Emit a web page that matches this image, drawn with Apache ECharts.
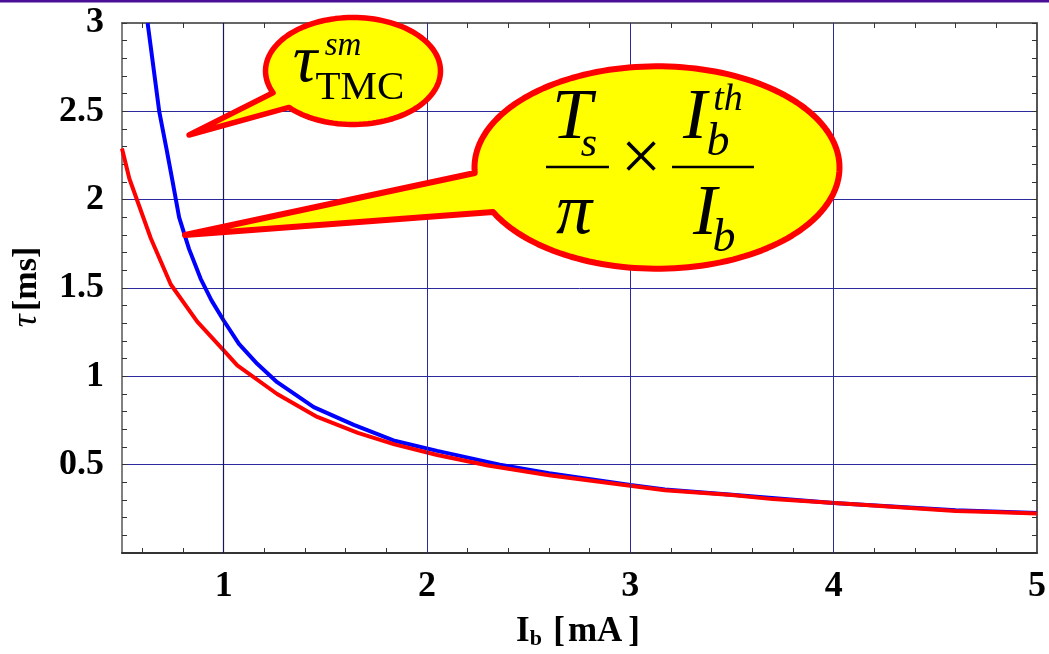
<!DOCTYPE html>
<html><head><meta charset="utf-8">
<script src="https://cdn.jsdelivr.net/npm/echarts@6/dist/echarts.min.js"></script>
<style>html,body{margin:0;padding:0;background:#fff}#c{width:1049px;height:654px}</style>
</head><body><div id="c"></div>
<script>
// ---- data ----
const xLabelValues = [1, 2, 3, 4, 5];
const xGridValues = [1, 2, 3, 4];
const xTickValues = [0.6, 0.8, 1, 1.2, 1.4, 1.6, 1.8, 2, 2.2, 2.4, 2.6, 2.8, 3, 3.2, 3.4, 3.6, 3.8, 4, 4.2, 4.4, 4.6, 4.8];

// tau_TMC^sm (blue)
const blueX = [0.626, 0.683, 0.72, 0.748, 0.781, 0.83, 0.887, 0.94, 1.0, 1.075, 1.165, 1.263, 1.443, 1.64, 1.835, 2.05, 2.358, 2.6, 3.0, 3.17, 3.5, 4.0, 4.6, 4.78, 5.0];
const blueY = [3.0, 2.5, 2.28, 2.108, 1.90, 1.72, 1.552, 1.43, 1.316, 1.184, 1.071, 0.967, 0.826, 0.725, 0.637, 0.578, 0.50, 0.452, 0.385, 0.36, 0.33, 0.283, 0.242, 0.235, 0.226];

// Ts/pi * Ib_th/Ib (red)
const redX = [0.5, 0.536, 0.642, 0.74, 0.87, 1.0, 1.067, 1.263, 1.46, 1.66, 1.84, 2.05, 2.3, 2.6, 3.17, 3.5, 3.7, 4.1, 4.6, 4.78, 5.0];
const redY = [2.29, 2.12, 1.78, 1.52, 1.31, 1.147, 1.062, 0.90, 0.77, 0.68, 0.615, 0.555, 0.495, 0.44, 0.355, 0.328, 0.305, 0.276, 0.238, 0.232, 0.224];

const serif = '"Liberation Serif", "Times New Roman", serif';
const gridColor = '#2a2a9c';

function pairs(xs, ys) { return xs.map((x, i) => [x, ys[i]]); }

// speech-bubble outline: ellipse arc from tail base a to tail base b, then tip
function bubblePoints(cx, cy, rx, ry, a, b, tip, n) {
  const ta = Math.atan2((a[1] - cy) / ry, (a[0] - cx) / rx);
  let tb = Math.atan2((b[1] - cy) / ry, (b[0] - cx) / rx);
  if (tb <= ta) tb += Math.PI * 2;
  const pts = [tip];
  for (let i = 0; i <= n; i++) {
    const t = ta + (tb - ta) * i / n;
    pts.push([cx + rx * Math.cos(t), cy + ry * Math.sin(t)]);
  }
  return pts;
}

function txt(text, x, y, size, style, weight) {
  return {
    type: 'text', x: x, y: y, z: 102, silent: true,
    style: { text: text, fill: '#000', align: 'center', verticalAlign: 'middle',
      font: (style || 'italic') + ' ' + (weight || 'normal') + ' ' + size + 'px ' + serif }
  };
}

const chart = echarts.init(document.getElementById('c'), null, { renderer: 'canvas' });

const tickStyle = { show: true, inside: true, length: 5, lineStyle: { color: '#333', width: 1 } };

const option = {
  animation: false,
  backgroundColor: '#fff',
  grid: { left: 122, right: 8, top: 23, bottom: 101, containLabel: false },
  xAxis: [{
    type: 'value', min: 0.5, max: 5, position: 'bottom',
    axisLine: { show: true, onZero: false, lineStyle: { color: '#333', width: 2 } },
    axisTick: Object.assign({ customValues: xTickValues }, tickStyle),
    axisLabel: { customValues: xLabelValues, margin: 16, color: '#000', fontFamily: serif, fontWeight: 'bold', fontSize: 36 },
    splitLine: { show: false }
  }, {
    type: 'value', min: 0.5, max: 5, position: 'top',
    axisLine: { show: true, onZero: false, lineStyle: { color: '#666', width: 2 } },
    axisTick: Object.assign({ customValues: xTickValues }, tickStyle),
    axisLabel: { show: false },
    splitLine: { show: false }
  }],
  yAxis: [{
    type: 'value', min: 0, max: 3, interval: 0.5, position: 'left',
    axisLine: { show: true, onZero: false, lineStyle: { color: '#808080', width: 2 } },
    axisTick: tickStyle,
    minorTick: { show: true, splitNumber: 5, length: 5, lineStyle: { color: '#333', width: 1 } },
    axisLabel: { margin: 18, color: '#000', fontFamily: serif, fontWeight: 'bold', fontSize: 36,
      formatter: v => (v === 0 ? '' : String(v)) },
    splitLine: { show: true, lineStyle: { color: gridColor, width: 1 } }
  }, {
    type: 'value', min: 0, max: 3, interval: 0.5, position: 'right',
    axisLine: { show: true, onZero: false, lineStyle: { color: '#555', width: 2 } },
    axisTick: tickStyle,
    minorTick: { show: true, splitNumber: 5, length: 5, lineStyle: { color: '#333', width: 1 } },
    axisLabel: { show: false },
    splitLine: { show: false }
  }],
  series: [{
    type: 'line', data: [], z: 1, silent: true,
    markLine: {
      silent: true, symbol: ['none', 'none'], label: { show: false }, animation: false,
      lineStyle: { color: gridColor, width: 1, type: 'solid' },
      emphasis: { disabled: true },
      data: xGridValues.map(v => v === 1
        ? { xAxis: v, lineStyle: { color: '#16165a', width: 1.2, type: 'solid' } }
        : { xAxis: v })
    }
  }, {
    name: 'tau_TMC_sm', type: 'line', z: 3, showSymbol: false, smooth: false, clip: true,
    lineStyle: { color: '#0000ff', width: 4 },
    data: pairs(blueX, blueY)
  }, {
    name: 'Ts/pi x Ib_th/Ib', type: 'line', z: 4, showSymbol: false, smooth: false, clip: true,
    lineStyle: { color: '#ff0000', width: 4 },
    data: pairs(redX, redY)
  }],
  graphic: { elements: [
    { type: 'rect', shape: { x: 0, y: 0, width: 1049, height: 2.5 }, style: { fill: '#4b0e96' }, z: 110, silent: true },
    // axis titles
    { type: 'text', x: 578, y: 632, z: 102, silent: true,
      style: { text: '{i|I}{s|b} {u|[}{m|mA}{u|]}', align: 'center', verticalAlign: 'middle', fill: '#000',
        rich: {
          i: { fontFamily: serif, fontWeight: 'bold', fontSize: 35, fill: '#000' },
          s: { fontFamily: serif, fontWeight: 'bold', fontSize: 22, fill: '#000', padding: [14, 8, 0, 0] },
          u: { fontFamily: serif, fontWeight: 'bold', fontSize: 35, fill: '#000' },
          m: { fontFamily: serif, fontWeight: 'bold', fontSize: 35, fill: '#000', padding: [0, 6, 0, 3] }
        } } },
    { type: 'text', x: 27, y: 287, rotation: Math.PI / 2, z: 102, silent: true,
      style: { text: '{t|τ} {u|[ms]}', align: 'center', verticalAlign: 'middle', fill: '#000',
        rich: {
          t: { fontFamily: serif, fontStyle: 'italic', fontWeight: 'normal', fontSize: 36, fill: '#000' },
          u: { fontFamily: serif, fontWeight: 'bold', fontSize: 34, fill: '#000' }
        } } },
    // bubble 1
    { type: 'polygon', z: 100, silent: true,
      shape: { points: bubblePoints(353, 71, 87.5, 53.5, [272, 93], [288, 108], [189, 135], 120) },
      style: { fill: '#ffff00', stroke: '#ff0000', lineWidth: 5.5, lineJoin: 'round' } },
    txt('τ', 305, 63, 68),
    txt('sm', 343, 46, 33),
    txt('TMC', 360, 88.5, 41, 'normal'),
    // bubble 2
    { type: 'polygon', z: 100, silent: true,
      shape: { points: bubblePoints(657, 167.5, 182.5, 101.2, [475, 173], [493, 212], [185, 235], 160) },
      style: { fill: '#ffff00', stroke: '#ff0000', lineWidth: 6, lineJoin: 'round' } },
    txt('T', 572, 119.5, 72),
    txt('s', 589, 144.6, 42),
    { type: 'line', z: 102, silent: true, shape: { x1: 546, y1: 167, x2: 609, y2: 167 }, style: { stroke: '#000', lineWidth: 2.5 } },
    txt('π', 574, 214, 72),
    txt('×', 641, 161, 72, 'normal'),
    txt('I', 695, 119.5, 72),
    txt('th', 728, 100, 38),
    txt('b', 718, 142.5, 46),
    { type: 'line', z: 102, silent: true, shape: { x1: 672, y1: 167, x2: 754, y2: 167 }, style: { stroke: '#000', lineWidth: 2.5 } },
    txt('I', 705, 215, 72),
    txt('b', 724, 239, 46)
  ] }
};
chart.setOption(option);
</script>
</body></html>
